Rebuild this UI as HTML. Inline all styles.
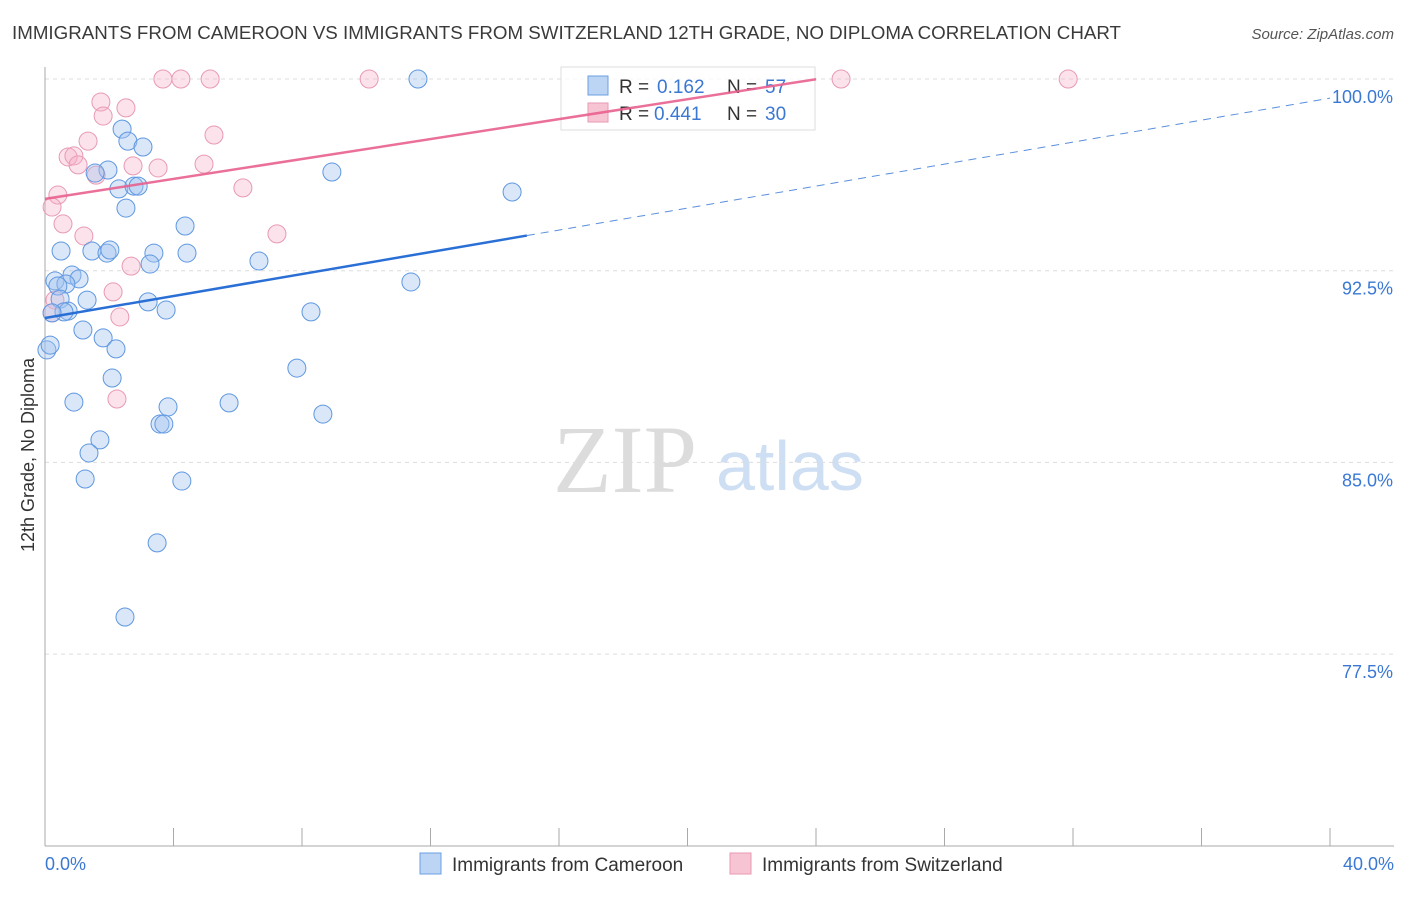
<!DOCTYPE html>
<html><head><meta charset="utf-8"><style>
body{margin:0;background:#fff;font-family:"Liberation Sans",sans-serif}
</style></head><body>
<svg id="chart" width="1406" height="892" xmlns="http://www.w3.org/2000/svg" font-family="Liberation Sans, sans-serif">
<text x="12" y="39" font-size="18" fill="#3a3a3a" textLength="1109" lengthAdjust="spacingAndGlyphs">IMMIGRANTS FROM CAMEROON VS IMMIGRANTS FROM SWITZERLAND 12TH GRADE, NO DIPLOMA CORRELATION CHART</text>
<text x="1394" y="39" font-size="15" fill="#555" text-anchor="end" font-style="italic">Source: ZipAtlas.com</text>
<text transform="translate(34,455) rotate(-90)" font-size="18" fill="#333" text-anchor="middle">12th Grade, No Diploma</text>
<g>
<text x="553" y="492" font-size="96" fill="#dcdcdc" font-family="Liberation Serif, serif">ZIP</text>
<text x="716" y="490" font-size="70" fill="#cfdff3">atlas</text>
</g>
<g id="grid"></g>
<g id="axes"></g>
<g id="points"></g>
<g>
<rect x="561" y="67" width="254" height="63" fill="#fff" fill-opacity="0.75" stroke="#ddd"/>
<rect x="588" y="76" width="20" height="19" fill="#bcd5f5" stroke="#6a9fe0"/>
<text x="619" y="93" font-size="19" fill="#333">R =</text>
<text x="657" y="93" font-size="19" fill="#3a78d4">0.162</text>
<text x="727" y="93" font-size="19" fill="#333">N =</text>
<text x="765" y="93" font-size="19" fill="#3a78d4">57</text>
<rect x="588" y="103" width="20" height="19" fill="#f7c4d3" stroke="#e89ab3"/>
<text x="619" y="120" font-size="19" fill="#333">R =</text>
<text x="654" y="120" font-size="19" fill="#3a78d4">0.441</text>
<text x="727" y="120" font-size="19" fill="#333">N =</text>
<text x="765" y="120" font-size="19" fill="#3a78d4">30</text>
</g>
<g id="lines"></g>
<g>
<rect x="420" y="853" width="21" height="21" fill="#bcd5f5" stroke="#6a9fe0"/>
<text x="452" y="871" font-size="19" fill="#333">Immigrants from Cameroon</text>
<rect x="730" y="853" width="21" height="21" fill="#f7c4d3" stroke="#e89ab3"/>
<text x="762" y="871" font-size="19" fill="#333">Immigrants from Switzerland</text>
</g>
</svg>
<script>
const yTicks=[100,92.5,85,77.5];
const yTickLabels=["100.0%","92.5%","85.0%","77.5%"];
const xTickLabels=["0.0%","40.0%"];
const blueX=[11.61,2.40,2.58,3.05,1.96,1.56,8.93,2.30,2.77,2.90,14.54,2.52,4.36,0.50,1.46,1.93,2.02,3.39,4.42,3.27,6.66,0.31,0.84,1.06,0.65,0.40,0.47,1.31,0.72,0.59,3.21,3.77,11.39,8.28,0.22,1.18,1.81,2.21,0.06,7.84,2.09,0.90,5.73,3.83,3.58,3.70,8.65,1.71,1.37,1.25,4.26,3.49,2.49,0.16];
const blueY=[100,98.04,97.57,97.34,96.44,96.32,96.36,95.70,95.81,95.81,95.58,94.95,94.25,93.27,93.27,93.19,93.31,93.19,93.19,92.76,92.88,92.10,92.33,92.18,91.98,91.90,91.39,91.35,90.92,90.89,91.28,90.96,92.06,90.89,90.85,90.18,89.87,89.44,89.40,88.69,88.30,87.36,87.33,87.17,86.50,86.50,86.89,85.88,85.37,84.35,84.27,81.85,78.95,89.59];
const pinkX=[3.67,4.23,5.14,10.09,24.78,31.85,1.74,2.52,1.81,5.26,1.34,0.72,0.90,1.03,2.74,3.52,1.59,4.95,6.16,0.40,0.22,0.56,1.21,7.22,2.68,2.12,0.31,2.33,2.24,0.22];
const pinkY=[100,100,100,100,100,100,99.10,98.87,98.55,97.81,97.57,96.95,96.99,96.64,96.60,96.52,96.24,96.67,95.74,95.46,94.99,94.33,93.86,93.94,92.68,91.67,91.35,90.69,87.48,90.85];
const blueTrend=[90.65,0.215];
const pinkTrend=[95.31,0.195];

const NS="http://www.w3.org/2000/svg";
const X0=45,X1=1330,Y100=79,PXPER=191.7/7.5;
const sx=v=>X0+(v/40)*(X1-X0);
const sy=v=>Y100+(100-v)*PXPER;
function mk(t,a,p){const e=document.createElementNS(NS,t);for(const k in a)e.setAttribute(k,a[k]);p.appendChild(e);return e;}
const grid=document.getElementById('grid'),axes=document.getElementById('axes');
yTicks.forEach((t,i)=>{
 const l=mk('line',{x1:X0,x2:1394,y1:sy(t),y2:sy(t),stroke:'#ddd','stroke-dasharray':'4,4'},grid);
 
 
 const tx=mk('text',{x:1393,y:sy(t)+24,'font-size':18,fill:'#3a78d4','text-anchor':'end'},axes);
 tx.textContent=yTickLabels[i];
 
 
});
const ya=mk('line',{x1:X0,x2:X0,y1:67,y2:846,stroke:'#aaa'},axes);


const xa=mk('line',{x1:X0,x2:1394,y1:846,y2:846,stroke:'#aaa'},axes);


for(let i=0;i<=10;i++){
 const t=mk('line',{x1:sx(i*4),x2:sx(i*4),y1:828,y2:846,stroke:'#aaa'},axes);
 
 
}
[[0,'start',45],[40,'end',1394]].forEach((d,i)=>{
 const t=mk('text',{x:d[2],y:870,'font-size':18,fill:'#3a78d4','text-anchor':d[1]},axes);
 t.textContent=xTickLabels[i];
 
 
});
const lines=document.getElementById('lines');
const bl=mk('line',{x1:sx(0),y1:sy(blueTrend[0]),x2:sx(15),y2:sy(blueTrend[0]+blueTrend[1]*15),stroke:'#2a6fd6','stroke-width':2.5},lines);


const bd=mk('line',{x1:sx(15),y1:sy(blueTrend[0]+blueTrend[1]*15),x2:sx(40),y2:sy(blueTrend[0]+blueTrend[1]*40),stroke:'#5a8fdc','stroke-width':1,'stroke-dasharray':'8,6'},lines);


const pl=mk('line',{x1:sx(0),y1:sy(pinkTrend[0]),x2:sx(24),y2:sy(pinkTrend[0]+pinkTrend[1]*24),stroke:'#e8608e','stroke-width':2.5,'stroke-opacity':0.9},lines);


const pts=document.getElementById('points');
pinkX.forEach((x,i)=>{
 const c=mk('circle',{cx:sx(x),cy:sy(pinkY[i]),r:9,fill:'rgba(245,175,198,0.35)',stroke:'#e89ab3','stroke-width':1},pts);
 
 
});
blueX.forEach((x,i)=>{
 const c=mk('circle',{cx:sx(x),cy:sy(blueY[i]),r:9,fill:'rgba(160,195,240,0.4)',stroke:'#5f97e0','stroke-width':1},pts);
 
 
});
</script>
</body></html>
